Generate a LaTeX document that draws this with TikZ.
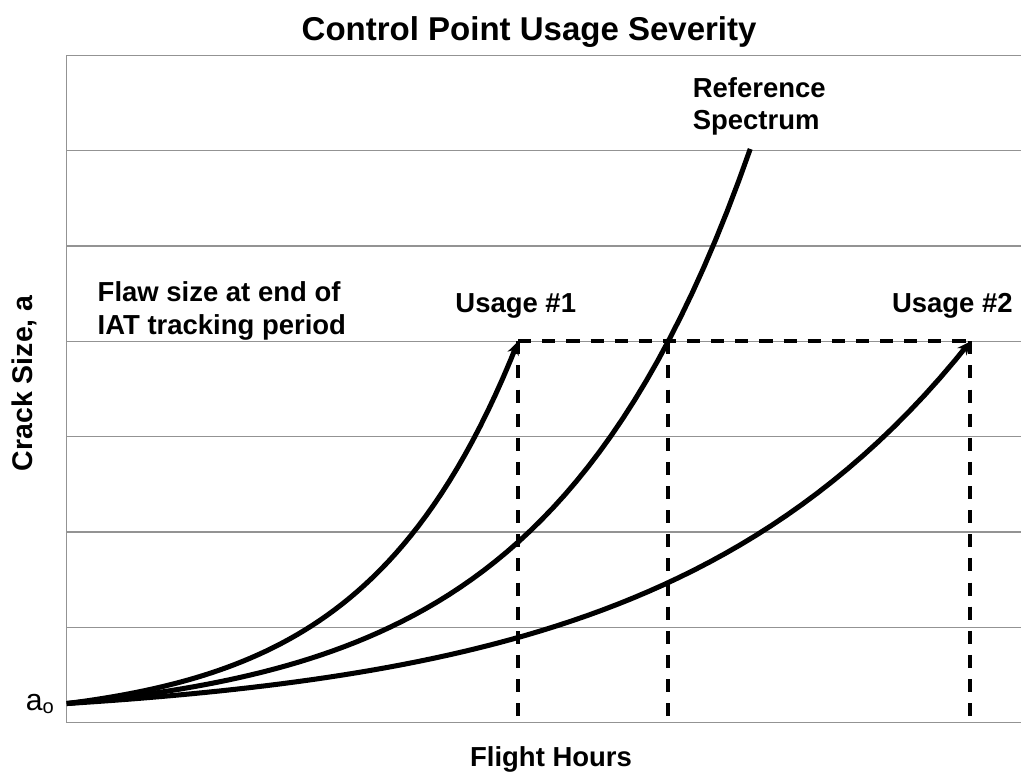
\documentclass[tikz,border=0pt]{standalone}
\usepackage{fontspec}
\setmainfont{Liberation Sans}
\usetikzlibrary{arrows.meta}

\tikzset{
  gridline/.style={draw=gray!85,line width=0.45pt},
  curve/.style={line width=1.5pt},
  dropline/.style={line width=1.2pt,dash pattern=on 3.9pt off 3.3pt},
  lbl/.style={font=\fontsize{8.2}{9.6}\selectfont\bfseries,inner sep=0pt},
}

\begin{document}
\begin{tikzpicture}
\useasboundingbox (-0.70,-0.614) rectangle (10.01,7.58);

% frame and grid
\coordinate (o) at (0,0);
\foreach \y in {0,...,7} {
  \draw[gridline] (0,\y)--(10.01,\y);
}
\draw[gridline] (0,0)--(0,7);

% end points of the curves
\coordinate (u1) at (4.736,4);
\coordinate (ref) at (6.31,4);
\coordinate (u2) at (9.48,4);

% dashed drop lines
\draw[dropline] (u1)--(u2);
\draw[dropline] (u1)--(u1 |- o);
\draw[dropline] (ref)--(ref |- o);
\draw[dropline] (u2)--(u2 |- o);

% crack growth curves
\draw[curve,-{Stealth[length=4pt,width=3.5pt]}] plot[domain=0:4.736,samples=60] (\x,{0.2*exp(0.6326*\x)});
\draw[curve] plot[domain=0:7.17,samples=60] (\x,{0.2*exp(0.4748*\x)});
\draw[curve,-{Stealth[length=4pt,width=3.5pt]}] plot[domain=0:9.48,samples=60] (\x,{0.2*exp(0.3160*\x)});

% labels
\node[lbl,font=\fontsize{9.85}{11}\selectfont\bfseries] (title) at (4.85,7.245) {Control Point Usage Severity};
\node[lbl,align=left,anchor=west] (reflbl) at (6.56,6.46) {Reference\\Spectrum};
\node[lbl,anchor=base] (use1) at (4.71,4.297) {Usage \#1};
\node[lbl,anchor=base] (use2) at (9.29,4.297) {Usage \#2};
\node[lbl,align=left,anchor=base west] (flaw) at (0.318,4.075) {Flaw size at end of\\IAT tracking period};
\node[lbl,font=\fontsize{9}{10}\selectfont,anchor=base east] (a0) at (-0.11,0.131) {a\textsubscript{o}};
\node[lbl,font=\fontsize{8.5}{10}\selectfont\bfseries,rotate=90,anchor=base] (ylbl) at (-0.364,3.56) {Crack Size, a};
\node[lbl,anchor=base] (xlbl) at (5.08,-0.464) {Flight Hours};
\end{tikzpicture}
\end{document}
